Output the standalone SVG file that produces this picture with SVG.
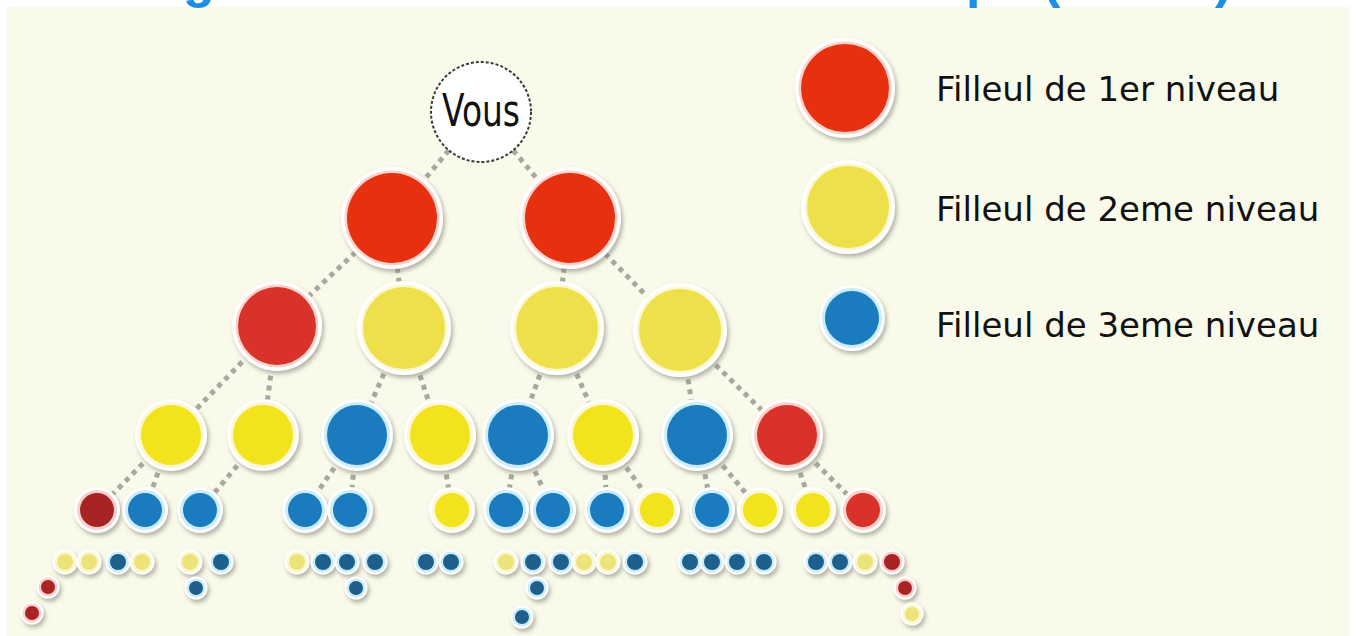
<svg xmlns="http://www.w3.org/2000/svg" width="1356" height="636" viewBox="0 0 1356 636">
<defs>
<filter id="sh" x="-30%" y="-30%" width="160%" height="160%">
<feDropShadow dx="2" dy="3" stdDeviation="2" flood-color="#7a7a70" flood-opacity="0.55"/>
</filter>
</defs>
<style>
.halo{fill:#ffffff;filter:url(#sh)}
.red .ring{fill:#f9d3c9}.red .core{fill:#e6300f}
.red2 .ring{fill:#f9d3c9}.red2 .core{fill:#d9322a}
.dred .ring{fill:#f6d0cc}.dred .core{fill:#a82424}
.yel .ring{fill:#fbf7cf}.yel .core{fill:#eee04a}
.yel3 .ring{fill:#fbf7cf}.yel3 .core{fill:#f2e31c}
.pyel .ring{fill:#fbf7cf}.pyel .core{fill:#ece47a}
.blu .ring{fill:#c9eef8}.blu .core{fill:#1a7bbf}
.dblu .ring{fill:#c9eef8}.dblu .core{fill:#1f5f8c}
.conn line{stroke:#a8a8a0;stroke-width:5;stroke-dasharray:5 5;fill:none}
.title{font-family:"Liberation Sans",Arial,sans-serif;font-weight:bold;font-size:52px;fill:#1a8fe6}
.leg{font-family:"DejaVu Sans",Verdana,sans-serif;font-size:34px;fill:#111111}
.vous{font-family:"DejaVu Sans","Liberation Sans",sans-serif;font-size:44px;fill:#111111}
</style>
<rect x="0" y="0" width="1356" height="636" fill="#ffffff"/>
<rect x="7" y="7" width="1343" height="629" fill="#fafaea"/>
<text class="title" y="-3"><tspan x="183">g</tspan><tspan x="966">p</tspan><tspan x="1043">(</tspan><tspan x="1215">)</tspan></text>

<g id="connectors" class="conn">
<line x1="481" y1="112" x2="392" y2="218"/>
<line x1="481" y1="112" x2="570" y2="218"/>
<line x1="392" y1="218" x2="277" y2="326"/>
<line x1="392" y1="218" x2="404" y2="328"/>
<line x1="570" y1="218" x2="557" y2="328"/>
<line x1="570" y1="218" x2="680" y2="330"/>
<line x1="277" y1="326" x2="171" y2="435"/>
<line x1="277" y1="326" x2="263" y2="435"/>
<line x1="404" y1="328" x2="357" y2="435"/>
<line x1="404" y1="328" x2="440" y2="435"/>
<line x1="557" y1="328" x2="518" y2="435"/>
<line x1="557" y1="328" x2="603" y2="435"/>
<line x1="680" y1="330" x2="697" y2="435"/>
<line x1="680" y1="330" x2="787" y2="435"/>
<line x1="171" y1="435" x2="97" y2="510"/>
<line x1="171" y1="435" x2="145" y2="510"/>
<line x1="263" y1="435" x2="200" y2="510"/>
<line x1="357" y1="435" x2="305" y2="510"/>
<line x1="357" y1="435" x2="350" y2="510"/>
<line x1="440" y1="435" x2="452" y2="510"/>
<line x1="518" y1="435" x2="506" y2="510"/>
<line x1="518" y1="435" x2="553" y2="510"/>
<line x1="603" y1="435" x2="607" y2="510"/>
<line x1="603" y1="435" x2="657" y2="510"/>
<line x1="697" y1="435" x2="712" y2="510"/>
<line x1="697" y1="435" x2="760" y2="510"/>
<line x1="787" y1="435" x2="813" y2="510"/>
<line x1="787" y1="435" x2="863" y2="510"/>
</g>

<g id="vous">
<circle cx="481" cy="112" r="50" fill="#ffffff" stroke="#3a3a3a" stroke-width="2" stroke-dasharray="3 2"/>
<text class="vous" x="481" y="126" text-anchor="middle" textLength="78" lengthAdjust="spacingAndGlyphs">Vous</text>
</g>

<g id="l1a" class="red"><circle class="halo" cx="392" cy="218" r="51"/><circle class="ring" cx="392" cy="218" r="47.5"/><circle class="core" cx="392" cy="218" r="45"/></g>
<g id="l1b" class="red"><circle class="halo" cx="570" cy="218" r="51"/><circle class="ring" cx="570" cy="218" r="47.5"/><circle class="core" cx="570" cy="218" r="45"/></g>

<g id="l2a" class="red2"><circle class="halo" cx="277" cy="326" r="45"/><circle class="ring" cx="277" cy="326" r="41.5"/><circle class="core" cx="277" cy="326" r="39"/></g>
<g id="l2b" class="yel"><circle class="halo" cx="404" cy="328" r="47"/><circle class="ring" cx="404" cy="328" r="43.5"/><circle class="core" cx="404" cy="328" r="41"/></g>
<g id="l2c" class="yel"><circle class="halo" cx="557" cy="328" r="47"/><circle class="ring" cx="557" cy="328" r="43.5"/><circle class="core" cx="557" cy="328" r="41"/></g>
<g id="l2d" class="yel"><circle class="halo" cx="680" cy="330" r="47"/><circle class="ring" cx="680" cy="330" r="43.5"/><circle class="core" cx="680" cy="330" r="41"/></g>

<g id="l3a" class="yel3"><circle class="halo" cx="171" cy="435" r="36"/><circle class="ring" cx="171" cy="435" r="33"/><circle class="core" cx="171" cy="435" r="30"/></g>
<g id="l3b" class="yel3"><circle class="halo" cx="263" cy="435" r="36"/><circle class="ring" cx="263" cy="435" r="33"/><circle class="core" cx="263" cy="435" r="30"/></g>
<g id="l3c" class="blu"><circle class="halo" cx="357" cy="435" r="36"/><circle class="ring" cx="357" cy="435" r="33"/><circle class="core" cx="357" cy="435" r="30"/></g>
<g id="l3d" class="yel3"><circle class="halo" cx="440" cy="435" r="36"/><circle class="ring" cx="440" cy="435" r="33"/><circle class="core" cx="440" cy="435" r="30"/></g>
<g id="l3e" class="blu"><circle class="halo" cx="518" cy="435" r="36"/><circle class="ring" cx="518" cy="435" r="33"/><circle class="core" cx="518" cy="435" r="30"/></g>
<g id="l3f" class="yel3"><circle class="halo" cx="603" cy="435" r="36"/><circle class="ring" cx="603" cy="435" r="33"/><circle class="core" cx="603" cy="435" r="30"/></g>
<g id="l3g" class="blu"><circle class="halo" cx="697" cy="435" r="36"/><circle class="ring" cx="697" cy="435" r="33"/><circle class="core" cx="697" cy="435" r="30"/></g>
<g id="l3h" class="red2"><circle class="halo" cx="787" cy="435" r="36"/><circle class="ring" cx="787" cy="435" r="33"/><circle class="core" cx="787" cy="435" r="30"/></g>

<g id="l4a" class="dred"><circle class="halo" cx="97" cy="510" r="23"/><circle class="ring" cx="97" cy="510" r="20"/><circle class="core" cx="97" cy="510" r="17"/></g>
<g id="l4b" class="blu"><circle class="halo" cx="145" cy="510" r="23"/><circle class="ring" cx="145" cy="510" r="20"/><circle class="core" cx="145" cy="510" r="17"/></g>
<g id="l4c" class="blu"><circle class="halo" cx="200" cy="510" r="23"/><circle class="ring" cx="200" cy="510" r="20"/><circle class="core" cx="200" cy="510" r="17"/></g>
<g id="l4d" class="blu"><circle class="halo" cx="305" cy="510" r="23"/><circle class="ring" cx="305" cy="510" r="20"/><circle class="core" cx="305" cy="510" r="17"/></g>
<g id="l4e" class="blu"><circle class="halo" cx="350" cy="510" r="23"/><circle class="ring" cx="350" cy="510" r="20"/><circle class="core" cx="350" cy="510" r="17"/></g>
<g id="l4f" class="yel3"><circle class="halo" cx="452" cy="510" r="23"/><circle class="ring" cx="452" cy="510" r="20"/><circle class="core" cx="452" cy="510" r="17"/></g>
<g id="l4g" class="blu"><circle class="halo" cx="506" cy="510" r="23"/><circle class="ring" cx="506" cy="510" r="20"/><circle class="core" cx="506" cy="510" r="17"/></g>
<g id="l4h" class="blu"><circle class="halo" cx="553" cy="510" r="23"/><circle class="ring" cx="553" cy="510" r="20"/><circle class="core" cx="553" cy="510" r="17"/></g>
<g id="l4i" class="blu"><circle class="halo" cx="607" cy="510" r="23"/><circle class="ring" cx="607" cy="510" r="20"/><circle class="core" cx="607" cy="510" r="17"/></g>
<g id="l4j" class="yel3"><circle class="halo" cx="657" cy="510" r="23"/><circle class="ring" cx="657" cy="510" r="20"/><circle class="core" cx="657" cy="510" r="17"/></g>
<g id="l4k" class="blu"><circle class="halo" cx="712" cy="510" r="23"/><circle class="ring" cx="712" cy="510" r="20"/><circle class="core" cx="712" cy="510" r="17"/></g>
<g id="l4l" class="yel3"><circle class="halo" cx="760" cy="510" r="23"/><circle class="ring" cx="760" cy="510" r="20"/><circle class="core" cx="760" cy="510" r="17"/></g>
<g id="l4m" class="yel3"><circle class="halo" cx="813" cy="510" r="23"/><circle class="ring" cx="813" cy="510" r="20"/><circle class="core" cx="813" cy="510" r="17"/></g>
<g id="l4n" class="red2"><circle class="halo" cx="863" cy="510" r="23"/><circle class="ring" cx="863" cy="510" r="20"/><circle class="core" cx="863" cy="510" r="17"/></g>

<g id="l5a" class="pyel"><circle class="halo" cx="65" cy="562" r="12.5"/><circle class="ring" cx="65" cy="562" r="10.5"/><circle class="core" cx="65" cy="562" r="8"/></g>
<g id="l5b" class="pyel"><circle class="halo" cx="89" cy="562" r="12.5"/><circle class="ring" cx="89" cy="562" r="10.5"/><circle class="core" cx="89" cy="562" r="8"/></g>
<g id="l5c" class="dblu"><circle class="halo" cx="118" cy="562" r="12.5"/><circle class="ring" cx="118" cy="562" r="10.5"/><circle class="core" cx="118" cy="562" r="8"/></g>
<g id="l5d" class="pyel"><circle class="halo" cx="142" cy="562" r="12.5"/><circle class="ring" cx="142" cy="562" r="10.5"/><circle class="core" cx="142" cy="562" r="8"/></g>
<g id="l5e" class="pyel"><circle class="halo" cx="190" cy="562" r="12.5"/><circle class="ring" cx="190" cy="562" r="10.5"/><circle class="core" cx="190" cy="562" r="8"/></g>
<g id="l5f" class="dblu"><circle class="halo" cx="221" cy="562" r="12.5"/><circle class="ring" cx="221" cy="562" r="10.5"/><circle class="core" cx="221" cy="562" r="8"/></g>
<g id="l5g" class="pyel"><circle class="halo" cx="297" cy="562" r="12.5"/><circle class="ring" cx="297" cy="562" r="10.5"/><circle class="core" cx="297" cy="562" r="8"/></g>
<g id="l5h" class="dblu"><circle class="halo" cx="323" cy="562" r="12.5"/><circle class="ring" cx="323" cy="562" r="10.5"/><circle class="core" cx="323" cy="562" r="8"/></g>
<g id="l5i" class="dblu"><circle class="halo" cx="347" cy="562" r="12.5"/><circle class="ring" cx="347" cy="562" r="10.5"/><circle class="core" cx="347" cy="562" r="8"/></g>
<g id="l5j" class="dblu"><circle class="halo" cx="375" cy="562" r="12.5"/><circle class="ring" cx="375" cy="562" r="10.5"/><circle class="core" cx="375" cy="562" r="8"/></g>
<g id="l5k" class="dblu"><circle class="halo" cx="426" cy="562" r="12.5"/><circle class="ring" cx="426" cy="562" r="10.5"/><circle class="core" cx="426" cy="562" r="8"/></g>
<g id="l5l" class="dblu"><circle class="halo" cx="451" cy="562" r="12.5"/><circle class="ring" cx="451" cy="562" r="10.5"/><circle class="core" cx="451" cy="562" r="8"/></g>
<g id="l5m" class="pyel"><circle class="halo" cx="506" cy="562" r="12.5"/><circle class="ring" cx="506" cy="562" r="10.5"/><circle class="core" cx="506" cy="562" r="8"/></g>
<g id="l5n" class="dblu"><circle class="halo" cx="533" cy="562" r="12.5"/><circle class="ring" cx="533" cy="562" r="10.5"/><circle class="core" cx="533" cy="562" r="8"/></g>
<g id="l5o" class="dblu"><circle class="halo" cx="561" cy="562" r="12.5"/><circle class="ring" cx="561" cy="562" r="10.5"/><circle class="core" cx="561" cy="562" r="8"/></g>
<g id="l5p" class="pyel"><circle class="halo" cx="584" cy="562" r="12.5"/><circle class="ring" cx="584" cy="562" r="10.5"/><circle class="core" cx="584" cy="562" r="8"/></g>
<g id="l5q" class="pyel"><circle class="halo" cx="608" cy="562" r="12.5"/><circle class="ring" cx="608" cy="562" r="10.5"/><circle class="core" cx="608" cy="562" r="8"/></g>
<g id="l5r" class="dblu"><circle class="halo" cx="635" cy="562" r="12.5"/><circle class="ring" cx="635" cy="562" r="10.5"/><circle class="core" cx="635" cy="562" r="8"/></g>
<g id="l5s" class="dblu"><circle class="halo" cx="690" cy="562" r="12.5"/><circle class="ring" cx="690" cy="562" r="10.5"/><circle class="core" cx="690" cy="562" r="8"/></g>
<g id="l5t" class="dblu"><circle class="halo" cx="712" cy="562" r="12.5"/><circle class="ring" cx="712" cy="562" r="10.5"/><circle class="core" cx="712" cy="562" r="8"/></g>
<g id="l5u" class="dblu"><circle class="halo" cx="737" cy="562" r="12.5"/><circle class="ring" cx="737" cy="562" r="10.5"/><circle class="core" cx="737" cy="562" r="8"/></g>
<g id="l5v" class="dblu"><circle class="halo" cx="764" cy="562" r="12.5"/><circle class="ring" cx="764" cy="562" r="10.5"/><circle class="core" cx="764" cy="562" r="8"/></g>
<g id="l5w" class="dblu"><circle class="halo" cx="816" cy="562" r="12.5"/><circle class="ring" cx="816" cy="562" r="10.5"/><circle class="core" cx="816" cy="562" r="8"/></g>
<g id="l5x" class="dblu"><circle class="halo" cx="840" cy="562" r="12.5"/><circle class="ring" cx="840" cy="562" r="10.5"/><circle class="core" cx="840" cy="562" r="8"/></g>
<g id="l5y" class="pyel"><circle class="halo" cx="865" cy="562" r="12.5"/><circle class="ring" cx="865" cy="562" r="10.5"/><circle class="core" cx="865" cy="562" r="8"/></g>
<g id="l5z" class="dred"><circle class="halo" cx="892" cy="562" r="12.5"/><circle class="ring" cx="892" cy="562" r="10.5"/><circle class="core" cx="892" cy="562" r="8"/></g>

<g id="l6a" class="dred"><circle class="halo" cx="48" cy="587" r="11.5"/><circle class="ring" cx="48" cy="587" r="9.5"/><circle class="core" cx="48" cy="587" r="7"/></g>
<g id="l6b" class="dred"><circle class="halo" cx="32" cy="613" r="11.5"/><circle class="ring" cx="32" cy="613" r="9.5"/><circle class="core" cx="32" cy="613" r="7"/></g>
<g id="l6c" class="dblu"><circle class="halo" cx="196" cy="588" r="11.5"/><circle class="ring" cx="196" cy="588" r="9.5"/><circle class="core" cx="196" cy="588" r="7"/></g>
<g id="l6d" class="dblu"><circle class="halo" cx="356" cy="588" r="11.5"/><circle class="ring" cx="356" cy="588" r="9.5"/><circle class="core" cx="356" cy="588" r="7"/></g>
<g id="l6e" class="dblu"><circle class="halo" cx="537" cy="588" r="11.5"/><circle class="ring" cx="537" cy="588" r="9.5"/><circle class="core" cx="537" cy="588" r="7"/></g>
<g id="l6f" class="dblu"><circle class="halo" cx="522" cy="617" r="11.5"/><circle class="ring" cx="522" cy="617" r="9.5"/><circle class="core" cx="522" cy="617" r="7"/></g>
<g id="l6g" class="dred"><circle class="halo" cx="905" cy="588" r="11.5"/><circle class="ring" cx="905" cy="588" r="9.5"/><circle class="core" cx="905" cy="588" r="7"/></g>
<g id="l6h" class="pyel"><circle class="halo" cx="912" cy="614" r="11.5"/><circle class="ring" cx="912" cy="614" r="9.5"/><circle class="core" cx="912" cy="614" r="7"/></g>

<g id="legend1" class="red"><circle class="halo" cx="845" cy="88" r="50"/><circle class="ring" cx="845" cy="88" r="46.5"/><circle class="core" cx="845" cy="88" r="44"/><text class="leg" x="936" y="101">Filleul de 1er niveau</text></g>
<g id="legend2" class="yel"><circle class="halo" cx="848" cy="207" r="47"/><circle class="ring" cx="848" cy="207" r="43.5"/><circle class="core" cx="848" cy="207" r="41"/><text class="leg" x="936" y="221">Filleul de 2eme niveau</text></g>
<g id="legend3" class="blu"><circle class="halo" cx="852" cy="318" r="33"/><circle class="ring" cx="852" cy="318" r="30"/><circle class="core" cx="852" cy="318" r="27"/><text class="leg" x="936" y="337">Filleul de 3eme niveau</text></g>
</svg>
